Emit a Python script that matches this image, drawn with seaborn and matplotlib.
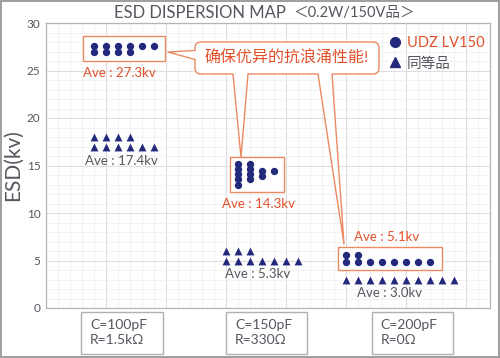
import numpy as np
import pandas as pd
import seaborn as sns
import matplotlib.pyplot as plt
from matplotlib.lines import Line2D
from matplotlib.patches import Rectangle, FancyBboxPatch, Polygon

# UDZ LV150 samples (column index, ESD kV)
udz_x = [4, 4, 5, 5, 6, 6, 7, 7, 8, 9,
         16, 16, 16, 16, 16, 17, 17, 17, 17, 18, 18, 19,
         25, 25, 26, 26, 27, 28, 29, 30, 31, 32]
udz_y = [27.6, 26.9, 27.6, 26.9, 27.6, 26.9, 27.6, 26.9, 27.6, 27.6,
         15.2, 14.65, 14.1, 13.55, 13.0, 15.2, 14.65, 14.1, 13.55, 14.45, 13.9, 14.45,
         5.6, 4.85, 5.6, 4.85, 4.85, 4.85, 4.85, 4.85, 4.85, 4.85]

# equivalent product samples
eq_x = [4, 5, 6, 7, 4, 5, 6, 7, 8, 9,
        15, 16, 17, 15, 16, 17, 18, 19, 20, 21,
        25, 26, 27, 28, 29, 30, 31, 32, 33, 34]
eq_y = [18, 18, 18, 18, 17, 17, 17, 17, 17, 17,
        6, 6, 6, 5, 5, 5, 5, 5, 5, 5,
        3, 3, 3, 3, 3, 3, 3, 3, 3, 3]

udz_avg = [27.3, 14.3, 5.1]
eq_avg = [17.4, 5.3, 3.0]
conditions = ['C=100pF\nR=1.5kΩ', 'C=150pF\nR=330Ω', 'C=200pF\nR=0Ω']
series_names = ['UDZ LV150', '同等品']

NAVY = '#232a7c'
RED = '#e2502a'
ORANGE = '#eb8a62'
GRAY = '#55565f'

sns.set_style('white')
plt.rcParams['font.family'] = ['Lato', 'Noto Sans CJK SC', 'DejaVu Sans']

df = pd.DataFrame({
    'x': udz_x + eq_x,
    'esd': udz_y + eq_y,
    'product': [series_names[0]] * len(udz_x) + [series_names[1]] * len(eq_x),
})

fig = plt.figure(figsize=(5.0, 3.58), dpi=100)
fig.patch.set_edgecolor('#a0a0a0')
fig.patch.set_linewidth(1.5)
ax = fig.add_axes([46 / 500, 1 - 308 / 358, 444 / 500, 285 / 358])

sns.scatterplot(data=df[df['product'] == series_names[0]], x='x', y='esd',
                marker='o', s=28, color=NAVY, linewidth=0, ax=ax, zorder=4)
sns.scatterplot(data=df[df['product'] == series_names[1]], x='x', y='esd',
                marker='^', s=32, color=NAVY, linewidth=0, ax=ax, zorder=4)

ax.set_xlim(0, 37)
ax.set_ylim(0, 30)
ax.set_xticks(np.arange(0, 37, 5))
ax.set_xticks(np.arange(0, 38, 1), minor=True)
ax.set_yticks(np.arange(0, 31, 5))
ax.set_yticks(np.arange(0, 31, 1), minor=True)
ax.grid(which='major', color='#dedede', linewidth=0.8)
ax.grid(which='minor', color='#f0f0f0', linewidth=0.6)
ax.set_axisbelow(True)
ax.tick_params(axis='both', which='both', length=0)
ax.tick_params(axis='y', labelsize=8.5, labelcolor=GRAY, pad=4)
ax.set_xticklabels([])
ax.set_xlabel('')
ax.set_ylabel('ESD(kv)', fontsize=15, color=GRAY, labelpad=3)
for sp in ax.spines.values():
    sp.set_color('#b5b5b5')
    sp.set_linewidth(0.9)

# title
fig.text(286 / 500, 1 - 13 / 358, 'ESD DISPERSION MAP', fontsize=12,
         color=GRAY, ha='right', va='center')
fig.text(293 / 500, 1 - 13 / 358, '＜0.2W/150V品＞', fontsize=10.5,
         color=GRAY, ha='left', va='center')

# highlight boxes around UDZ groups
for (x0, x1, y0, y1) in [(3.06, 9.9, 26.0, 28.66), (15.3, 19.8, 12.24, 15.93),
                         (24.3, 33.0, 4.0, 6.45)]:
    ax.add_patch(Rectangle((x0, y0), x1 - x0, y1 - y0, facecolor='white',
                           edgecolor=ORANGE, linewidth=1.0, zorder=2))

# average labels
ax.text(3.08, 24.7, f'Ave : {udz_avg[0]:.1f}kv', color=RED, fontsize=9.5,
        ha='left', va='center')
ax.text(17.75, 10.95, f'Ave : {udz_avg[1]:.1f}kv', color=RED, fontsize=9.5,
        ha='center', va='center')
ax.text(28.42, 7.47, f'Ave : {udz_avg[2]:.1f}kv', color=RED, fontsize=9.5,
        ha='center', va='center')
ax.text(6.25, 15.5, f'Ave : {eq_avg[0]:.1f}kv', color=GRAY, fontsize=9.5,
        ha='center', va='center')
ax.text(17.67, 3.58, f'Ave : {eq_avg[1]:.1f}kv', color=GRAY, fontsize=9.5,
        ha='center', va='center')
ax.text(28.67, 1.63, f'Ave : {eq_avg[2]:.1f}kv', color=GRAY, fontsize=9.5,
        ha='center', va='center')


def px(x, y):
    return ((x - 46) / 12, 30 - (y - 23) / 9.5)


# speech bubble with pointers
bx0, by1 = px(195, 42)
bx1, by0 = px(379, 74)
bubble = FancyBboxPatch((bx0, by0), bx1 - bx0, by1 - by0,
                        boxstyle='round,pad=0,rounding_size=0.5',
                        mutation_aspect=12 / 9.5, facecolor='white',
                        edgecolor=ORANGE, linewidth=1.0, zorder=5)
ax.add_patch(bubble)
pointers = [
    (px(168, 52), px(195, 50.5), px(195, 59.5), px(197, 50.5), px(197, 59.5)),
    (px(241, 157), px(233, 74), px(248, 74), px(233, 72), px(248, 72)),
    (px(344, 244), px(318, 74), px(332, 74), px(318, 72), px(332, 72)),
]
for tip, a, b, a_in, b_in in pointers:
    ax.add_patch(Polygon([tip, a_in, b_in], closed=True, facecolor='white',
                         edgecolor='none', zorder=6))
    ax.add_line(Line2D([a[0], tip[0], b[0]], [a[1], tip[1], b[1]],
                       color=ORANGE, linewidth=1.0, zorder=6))
ax.text((bx0 + bx1) / 2, (by0 + by1) / 2, '确保优异的抗浪涌性能!', color=RED,
        fontsize=11.5, ha='center', va='center', zorder=7)

# legend
handles = [Line2D([], [], marker='o', color=NAVY, linestyle='', markersize=7),
           Line2D([], [], marker='^', color=NAVY, linestyle='', markersize=7.5)]
leg = ax.legend(handles, series_names, loc='upper left',
                bbox_to_anchor=((388 - 46) / 444, 1 - (36 - 23) / 285),
                frameon=False, fontsize=10.5, handletextpad=0.3,
                handlelength=1.0, labelspacing=0.45, borderpad=0,
                borderaxespad=0)
leg.get_texts()[0].set_color(RED)
leg.get_texts()[1].set_color(GRAY)

# condition boxes below the axis
for label, (x0, x1) in zip(conditions, [(81, 162.7), (226, 307.3), (371.7, 453)]):
    (dx0, dy1), (dx1, dy0) = px(x0, 311.7), px(x1, 354)
    ax.add_patch(Rectangle((dx0, dy0), dx1 - dx0, dy1 - dy0, facecolor='white',
                           edgecolor='#b0b0b0', linewidth=1.0, clip_on=False))
    ax.text(dx0 + 9 / 12, (dy0 + dy1) / 2, label, color=GRAY, fontsize=10,
            ha='left', va='center', linespacing=1.3, clip_on=False)

fig.savefig('out.png', dpi=100)
